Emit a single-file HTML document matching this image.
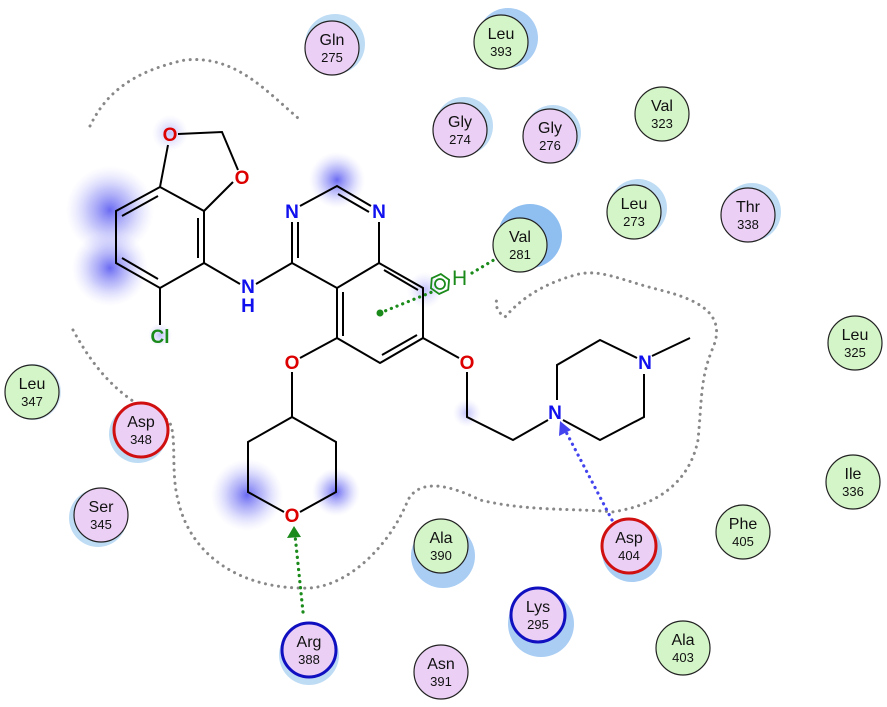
<!DOCTYPE html>
<html><head><meta charset="utf-8"><style>
html,body{margin:0;padding:0;background:#fff;}
svg{display:block;font-family:"Liberation Sans",Arial,sans-serif;}
</style></head><body>
<svg width="887" height="707" viewBox="0 0 887 707" xmlns="http://www.w3.org/2000/svg">
<defs>
<radialGradient id="g"><stop offset="0" stop-color="#5050f0" stop-opacity="0.85"/><stop offset="0.5" stop-color="#8080f5" stop-opacity="0.45"/><stop offset="1" stop-color="#c0c0ff" stop-opacity="0"/></radialGradient>
<radialGradient id="gl"><stop offset="0" stop-color="#8080f5" stop-opacity="0.5"/><stop offset="1" stop-color="#c0c0ff" stop-opacity="0"/></radialGradient>
</defs>
<circle cx="110" cy="210" r="44" fill="url(#g)"/>
<circle cx="110" cy="268" r="38" fill="url(#g)"/>
<circle cx="337" cy="180" r="28" fill="url(#g)"/>
<circle cx="170" cy="133" r="18" fill="url(#gl)"/>
<circle cx="247" cy="495" r="36" fill="url(#g)"/>
<circle cx="336" cy="492" r="24" fill="url(#g)"/>
<circle cx="467" cy="413" r="14" fill="url(#gl)"/>
<circle cx="425" cy="290" r="18" fill="url(#gl)"/>
<circle cx="160" cy="335" r="12" fill="url(#gl)"/>
<g fill="none" stroke="#888" stroke-width="3" stroke-dasharray="0.1 6.5" stroke-linecap="round">
<path d="M90,126 C105,95 130,72 185,60 C235,55 265,90 298,118"/>
<path d="M73,330 C95,370 120,400 168,420 C178,432 170,470 178,500 C190,555 240,590 310,588 C350,585 390,545 408,500 C420,478 450,485 480,500 C530,512 580,508 612,512 C660,505 690,480 698,440 C702,400 700,380 712,350 C728,315 700,300 660,290 C620,280 600,268 575,275 C540,285 520,300 505,317 C496,312 494,300 498,300"/>
</g>
<g fill="#bfdcf5">
<circle cx="335" cy="44" r="30"/>
<circle cx="508" cy="38" r="30" fill="#a9cdf3"/>
<circle cx="464" cy="126" r="29"/>
<circle cx="553" cy="133" r="28"/>
<circle cx="638" cy="208" r="29"/>
<circle cx="752" cy="212" r="29"/>
<circle cx="530" cy="236" r="32" fill="#8fbff0"/>
<circle cx="138" cy="434" r="29"/>
<circle cx="98" cy="518" r="29"/>
<circle cx="309" cy="655" r="30"/>
<circle cx="632" cy="552" r="30" fill="#a9cdf3"/>
<circle cx="541" cy="624" r="33" fill="#a9cdf3"/>
<circle cx="443" cy="556" r="32" fill="#a9cdf3"/>
<circle cx="33" cy="392" r="28" fill="#d7e9f8"/>
</g>
<g fill="none" stroke-width="3.2" stroke-dasharray="0.1 6" stroke-linecap="round">
<path d="M303,612 L295,535" stroke="#1a8a1a"/>
<path d="M612,520 L564,428" stroke="#4444ee"/>
<path d="M380,313 L432,292" stroke="#1a8a1a"/>
<path d="M472,273 L497,258" stroke="#1a8a1a"/>
</g>
<polygon points="294,526 287,538 301,537" fill="#1a8a1a"/>
<polygon points="560,421 559,436 571,430" fill="#4444ee"/>
<circle cx="380" cy="313" r="3.5" fill="#1a8a1a"/>
<g transform="translate(440,284) rotate(-25)" fill="none" stroke="#1a8a1a" stroke-width="1.8">
<polygon points="10,0 5,8.7 -5,8.7 -10,0 -5,-8.7 5,-8.7"/><circle r="5"/></g>
<text x="452" y="285" font-size="21" fill="#1a8a1a">H</text>
<g stroke="#000" stroke-width="2" fill="none">
<path d="M178,134 L222,132 L238,170"/>
<path d="M168,145 L160,187 L204,211 L204,263 L160,288 L116,263 L116,211 L160,187"/>
<path d="M122,216 L158,196 M122,258 L158,279 M198,218 L198,258"/>
<path d="M204,211 L233,182"/>
<path d="M160,288 L160,325"/>
<path d="M204,263 L240,284 M256,284 L292,263"/>
<path d="M292,263 L292,222 M298,258 L298,222 M300,206 L337,186 L371,206 M338,194 L369,212"/>
<path d="M379,222 L379,263 L337,288 L292,263 M337,288 L337,338 L380,363 L423,338 L423,288 L379,263 M343,292 L343,336 M384,270 L418,290 M382,355 L417,335"/>
<path d="M337,338 L300,358 M292,372 L292,417 L248,442 L248,492 L284,512 M300,512 L336,492 L336,442 L292,417"/>
<path d="M423,338 L459,358 M467,372 L467,417 L513,440 L548,420"/>
<path d="M557,400 L557,365 L600,340 L637,358 M644,374 L644,417 L600,440 L563,420 M652,356 L690,338"/>
</g>
<g font-size="19" font-weight="bold" text-anchor="middle">
<text x="170" y="141" fill="#dd0000">O</text>
<text x="242" y="184" fill="#dd0000">O</text>
<text x="292" y="218" fill="#1010ee">N</text>
<text x="379" y="218" fill="#1010ee">N</text>
<text x="248" y="293" fill="#1010ee">N</text>
<text x="248" y="312" fill="#1010ee">H</text>
<text x="160" y="343" fill="#1a8a1a">Cl</text>
<text x="292" y="369" fill="#dd0000">O</text>
<text x="467" y="369" fill="#dd0000">O</text>
<text x="292" y="522" fill="#dd0000">O</text>
<text x="555" y="419" fill="#1010ee">N</text>
<text x="645" y="369" fill="#1010ee">N</text>
</g>
<g stroke-width="1.2" stroke="#222" text-anchor="middle">
<g>
<circle cx="332" cy="48" r="27" fill="#ebcff5"/>
<circle cx="501" cy="42" r="27" fill="#d4f5c8"/>
<circle cx="460" cy="130" r="27" fill="#ebcff5"/>
<circle cx="550" cy="136" r="27" fill="#ebcff5"/>
<circle cx="662" cy="114" r="27" fill="#d4f5c8"/>
<circle cx="634" cy="212" r="27" fill="#d4f5c8"/>
<circle cx="748" cy="215" r="27" fill="#ebcff5"/>
<circle cx="520" cy="245" r="27" fill="#d4f5c8"/>
<circle cx="855" cy="343" r="27" fill="#d4f5c8"/>
<circle cx="32" cy="392" r="27" fill="#d4f5c8"/>
<circle cx="101" cy="515" r="27" fill="#ebcff5"/>
<circle cx="853" cy="482" r="27" fill="#d4f5c8"/>
<circle cx="743" cy="532" r="27" fill="#d4f5c8"/>
<circle cx="441" cy="546" r="27" fill="#d4f5c8"/>
<circle cx="683" cy="648" r="27" fill="#d4f5c8"/>
<circle cx="441" cy="672" r="27" fill="#ebcff5"/>
<circle cx="141" cy="430" r="27" fill="#ebcff5" stroke="#d01010" stroke-width="3"/>
<circle cx="629" cy="546" r="27" fill="#ebcff5" stroke="#d01010" stroke-width="3"/>
<circle cx="309" cy="650" r="27" fill="#ebcff5" stroke="#1010c0" stroke-width="3"/>
<circle cx="538" cy="615" r="27" fill="#ebcff5" stroke="#1010c0" stroke-width="3"/>
</g>
<g stroke="none" fill="#111">
<g font-size="16">
<text x="332" y="45">Gln</text><text x="501" y="39">Leu</text><text x="460" y="127">Gly</text><text x="550" y="133">Gly</text>
<text x="662" y="111">Val</text><text x="634" y="209">Leu</text><text x="748" y="212">Thr</text><text x="520" y="242">Val</text>
<text x="855" y="340">Leu</text><text x="32" y="389">Leu</text><text x="101" y="512">Ser</text><text x="853" y="479">Ile</text>
<text x="743" y="529">Phe</text><text x="441" y="543">Ala</text><text x="683" y="645">Ala</text><text x="441" y="669">Asn</text>
<text x="141" y="427">Asp</text><text x="629" y="543">Asp</text><text x="309" y="647">Arg</text><text x="538" y="612">Lys</text>
</g>
<g font-size="13">
<text x="332" y="62">275</text><text x="501" y="56">393</text><text x="460" y="144">274</text><text x="550" y="150">276</text>
<text x="662" y="128">323</text><text x="634" y="226">273</text><text x="748" y="229">338</text><text x="520" y="259">281</text>
<text x="855" y="357">325</text><text x="32" y="406">347</text><text x="101" y="529">345</text><text x="853" y="496">336</text>
<text x="743" y="546">405</text><text x="441" y="560">390</text><text x="683" y="662">403</text><text x="441" y="686">391</text>
<text x="141" y="444">348</text><text x="629" y="560">404</text><text x="309" y="664">388</text><text x="538" y="629">295</text>
</g>
</g>
</g>
</svg>
</body></html>
